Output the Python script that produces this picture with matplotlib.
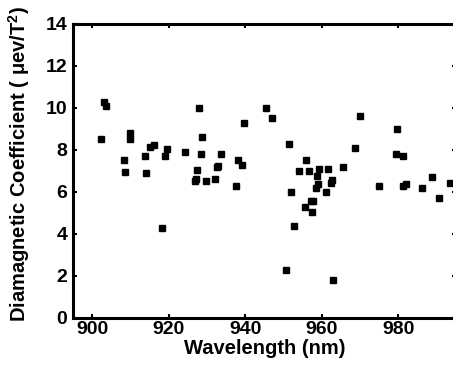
import matplotlib.pyplot as plt
import numpy as np

plt.rcParams['font.family'] = ['Liberation Sans', 'DejaVu Sans']
plt.rcParams['font.weight'] = 'bold'
plt.rcParams['mathtext.fontset'] = 'custom'
plt.rcParams['mathtext.rm'] = 'Liberation Sans:bold'
plt.rcParams['mathtext.it'] = 'Liberation Sans:bold'
plt.rcParams['mathtext.bf'] = 'Liberation Sans:bold'

# wavelength (nm) and diamagnetic coefficient (uev/T^2)
wavelength = [902.3, 903.0, 903.7, 908.3, 908.6, 909.9, 910.0, 913.7, 914.2, 915.1,
              916.2, 918.2, 919.0, 919.5, 924.2, 926.8, 927.1, 927.4, 928.0, 928.4,
              928.6, 929.8, 932.2, 932.7, 933.0, 933.8, 937.5, 938.0, 939.1, 939.6,
              945.5, 946.9, 950.6, 951.5, 952.0, 952.7, 954.1, 955.5, 956.0, 956.7,
              957.3, 957.4, 957.8, 958.6, 958.7, 959.0, 959.2, 961.1, 961.7, 962.5,
              962.6, 962.9, 965.6, 968.7, 970.0, 975.0, 979.3, 979.7, 981.2, 981.3,
              982.0, 986.1, 988.8, 990.7, 993.4]
dia_coef = [8.5, 10.3, 10.1, 7.5, 6.95, 8.8, 8.5, 7.7, 6.9, 8.15,
            8.25, 4.3, 7.7, 8.05, 7.9, 6.5, 6.6, 7.05, 10.0, 7.8,
            8.6, 6.5, 6.6, 7.2, 7.25, 7.8, 6.3, 7.5, 7.3, 9.3,
            10.0, 9.5, 2.3, 8.3, 6.0, 4.4, 7.0, 5.3, 7.5, 7.0,
            5.55, 5.05, 5.55, 6.2, 6.75, 6.4, 7.1, 6.0, 7.1, 6.45,
            6.55, 1.8, 7.2, 8.1, 9.6, 6.3, 7.8, 9.0, 7.7, 6.3,
            6.4, 6.2, 6.7, 5.7, 6.45]

xticks = [900, 920, 940, 960, 980]
yticks = [0, 2, 4, 6, 8, 10, 12, 14]

fig = plt.figure(figsize=(4.53, 3.71), dpi=100)
ax1 = fig.add_axes([0.161, 0.1429, 0.845, 0.7925])

ax1.plot(wavelength, dia_coef, 's', color='black', markersize=5)

ax1.set_xlim(895, 995)
ax1.set_ylim(0, 14)
ax1.set_xticks(xticks)
ax1.set_yticks(yticks)
ax1.tick_params(direction='in', length=3, width=1.5, labelsize=14, pad=2,
                top=True, right=True)
ax1.tick_params(axis='y', pad=4)
for s in ax1.spines.values():
    s.set_linewidth(2.2)

ax1.set_xlabel('Wavelength (nm)', fontsize=14.5, fontweight='bold', labelpad=1)
ax1.set_ylabel('Diamagnetic Coefficient ( \u03bcev/T$^2$)', fontsize=14.5,
               fontweight='bold', labelpad=10)
ax1.yaxis.label.set_y(0.525)

fig.savefig('out.png', dpi=100)
